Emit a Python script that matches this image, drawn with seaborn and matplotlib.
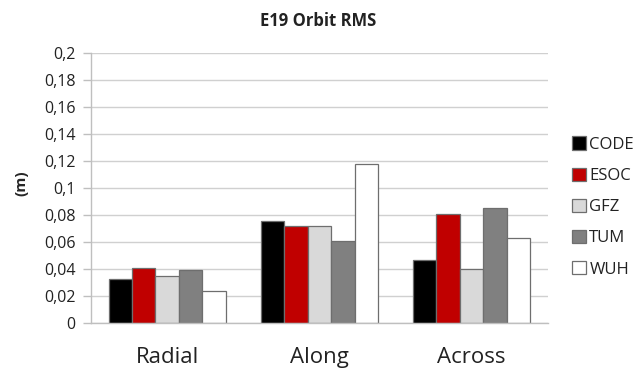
import matplotlib
matplotlib.use("Agg")
import matplotlib.pyplot as plt
import seaborn as sns
import pandas as pd
from matplotlib.ticker import FuncFormatter, MultipleLocator

components = ["Radial", "Along", "Across"]
centers = ["CODE", "ESOC", "GFZ", "TUM", "WUH"]
code_vals = [0.033, 0.0755, 0.047]
esoc_vals = [0.041, 0.072, 0.0805]
gfz_vals = [0.035, 0.072, 0.040]
tum_vals = [0.0395, 0.061, 0.085]
wuh_vals = [0.024, 0.118, 0.063]
colors = ["#000000", "#C00000", "#D9D9D9", "#808080", "#FFFFFF"]

series = [code_vals, esoc_vals, gfz_vals, tum_vals, wuh_vals]
rows = []
for c, vals in zip(centers, series):
    for comp, v in zip(components, vals):
        rows.append({"Component": comp, "Center": c, "RMS": v})
df = pd.DataFrame(rows)

sns.set_theme(style="white")
plt.rcParams['font.family'] = ['Open Sans', 'DejaVu Sans']

fig = plt.figure(figsize=(6.37, 3.69), dpi=100)
ax = fig.add_axes([0.1429, 0.124, 0.717, 0.733])

sns.barplot(data=df, x="Component", y="RMS", hue="Center", order=components,
            hue_order=centers, palette=colors, width=0.77, ax=ax,
            edgecolor="#6E6E6E", linewidth=0.9, legend=True, errorbar=None,
            saturation=1)

ax.set_ylim(0, 0.2)
ax.yaxis.set_major_locator(MultipleLocator(0.02))
ax.yaxis.set_major_formatter(FuncFormatter(lambda v, p: ("%g" % round(v, 2)).replace('.', ',')))
ax.grid(axis='y', color='#D0D0D0', linewidth=1.0)
ax.set_axisbelow(True)
for s in ["top", "right"]:
    ax.spines[s].set_visible(False)
for s in ["left", "bottom"]:
    ax.spines[s].set_color("#BFBFBF")
    ax.spines[s].set_linewidth(1.0)
ax.tick_params(axis='y', which='major', length=6, color='#BFBFBF', width=1.0,
               labelsize=11.5, pad=5, left=True)
ax.tick_params(axis='x', length=0, labelsize=16, pad=17)
ax.set_xlabel("")
ax.set_ylabel("(m)", fontsize=11, fontweight='bold')
ax.yaxis.set_label_coords(-0.138, 0.518)
for lab in ax.get_yticklabels() + ax.get_xticklabels():
    lab.set_color("#222222")
fig.text(318 / 637, 1 - 20.7 / 369, "E19 Orbit RMS", fontsize=12, fontweight='bold',
         ha='center', va='center', color="#222222")

handles, labels = ax.get_legend_handles_labels()
leg = ax.legend(handles, labels, loc='center left', bbox_to_anchor=(572 / 637, 1 - 207 / 369),
                bbox_transform=fig.transFigure, frameon=False, fontsize=12,
                handlelength=0.84, handleheight=0.84, handletextpad=0.2,
                labelspacing=0.89, borderaxespad=0, borderpad=0)
for t in leg.get_texts():
    t.set_color("#222222")

fig.savefig("out.png", dpi=100)
